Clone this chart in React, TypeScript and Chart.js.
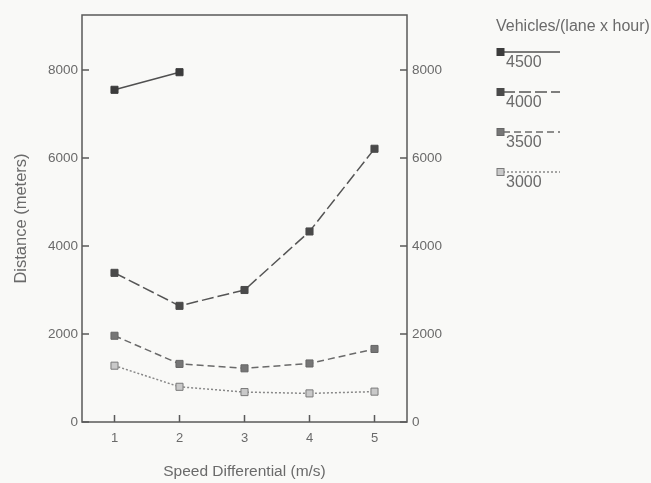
import React, { useEffect, useRef } from "react";
import { Chart, registerables } from "chart.js";

Chart.register(...registerables);

const categories = [1, 2, 3, 4, 5];
const series4500 = [7550, 7950, null, null, null];
const series4000 = [3390, 2640, 3000, 4330, 6210];
const series3500 = [1960, 1320, 1220, 1330, 1660];
const series3000 = [1280, 800, 680, 650, 690];
const seriesLabels = ["4500", "4000", "3500", "3000"];
const yTicks = [0, 2000, 4000, 6000, 8000];
const xTitle = "Speed Differential (m/s)";
const yTitle = "Distance (meters)";
const legendTitle = "Vehicles/(lane x hour)";

const FONT = "'Liberation Sans', Arial, Helvetica, sans-serif";
const TEXT = "#6a6a6a";
const AXIS = "#5a5a5a";
const BG = "#f9f9f7";

const toPoints = (vals: (number | null)[]) =>
  categories
    .map((c, i) => ({ x: c, y: vals[i] }))
    .filter((p) => p.y !== null);

const styles = [
  { line: "#505050", fill: "#3c3c3c", border: "#3c3c3c", dash: [] as number[] },
  { line: "#555555", fill: "#4a4a4a", border: "#4a4a4a", dash: [12, 4] },
  { line: "#6a6a6a", fill: "#767676", border: "#666666", dash: [7, 4] },
  { line: "#888888", fill: "#c9c9c9", border: "#7a7a7a", dash: [2, 2] },
];

const framePlugin = {
  id: "framePlugin",
  beforeDraw(chart: any) {
    const { ctx, width, height } = chart;
    ctx.save();
    ctx.fillStyle = BG;
    ctx.fillRect(0, 0, width, height);
    ctx.restore();
  },
  afterDraw(chart: any) {
    const { ctx, chartArea: a, scales } = chart;
    const TL = 7;
    ctx.save();
    ctx.strokeStyle = AXIS;
    ctx.lineWidth = 1.5;
    ctx.strokeRect(a.left, a.top, a.right - a.left, a.bottom - a.top);
    ctx.beginPath();
    scales.x.ticks.forEach((t: any) => {
      const px = scales.x.getPixelForValue(t.value);
      ctx.moveTo(px, a.bottom);
      ctx.lineTo(px, a.bottom - TL);
    });
    scales.y.ticks.forEach((t: any) => {
      const py = scales.y.getPixelForValue(t.value);
      ctx.moveTo(a.left, py);
      ctx.lineTo(a.left + TL, py);
    });
    scales.y2.ticks.forEach((t: any) => {
      const py = scales.y2.getPixelForValue(t.value);
      ctx.moveTo(a.right, py);
      ctx.lineTo(a.right - TL, py);
    });
    ctx.stroke();

    // legend
    ctx.fillStyle = TEXT;
    ctx.font = `16px ${FONT}`;
    ctx.textAlign = "left";
    ctx.textBaseline = "middle";
    ctx.fillText(legendTitle, 496, 27);
    chart.data.datasets.forEach((ds: any, i: number) => {
      const y = 52 + i * 40;
      ctx.save();
      ctx.strokeStyle = ds.borderColor;
      ctx.lineWidth = 1.5;
      ctx.setLineDash(ds.borderDash || []);
      ctx.beginPath();
      ctx.moveTo(503, y);
      ctx.lineTo(560, y);
      ctx.stroke();
      ctx.setLineDash([]);
      ctx.fillStyle = ds.pointBackgroundColor;
      ctx.strokeStyle = ds.pointBorderColor;
      ctx.lineWidth = 1;
      ctx.fillRect(497, y - 3.5, 7, 7);
      ctx.strokeRect(497, y - 3.5, 7, 7);
      ctx.restore();
      ctx.fillStyle = TEXT;
      ctx.font = `16px ${FONT}`;
      ctx.fillText(ds.label, 506, y + 11);
    });
    ctx.restore();
  },
};

export default function App() {
  const ref = useRef<HTMLCanvasElement | null>(null);
  useEffect(() => {
    if (!ref.current) return;
    const all = [series4500, series4000, series3500, series3000];
    const plain = (v: any) => String(v);
    const chart = new Chart(ref.current, {
      type: "line",
      data: {
        datasets: all.map((vals, i) => ({
          label: seriesLabels[i],
          data: toPoints(vals),
          borderColor: styles[i].line,
          borderWidth: 1.5,
          borderDash: styles[i].dash,
          pointStyle: "rect",
          pointRadius: 5,
          pointBackgroundColor: styles[i].fill,
          pointBorderColor: styles[i].border,
          pointBorderWidth: 1,
          fill: false,
          tension: 0,
        })) as any,
      },
      options: {
        animation: false,
        responsive: true,
        maintainAspectRatio: false,
        layout: { padding: { top: 15, right: 204, left: 0, bottom: 0 } },
        plugins: { legend: { display: false }, tooltip: { enabled: false } },
        scales: {
          x: {
            type: "linear",
            min: 0.5,
            max: 5.5,
            grid: { display: false, drawTicks: false },
            border: { display: false },
            afterBuildTicks: (s: any) => {
              s.ticks = categories.map((v) => ({ value: v }));
            },
            afterFit: (s: any) => {
              s.height = 61;
            },
            ticks: { color: TEXT, font: { family: FONT, size: 13 }, padding: 9, callback: plain },
            title: {
              display: true,
              text: xTitle,
              color: TEXT,
              font: { family: FONT, size: 15.5 },
              padding: { top: 0, bottom: 2 },
            },
          },
          y: {
            type: "linear",
            position: "left",
            min: 0,
            max: 9250,
            grid: { display: false, drawTicks: false },
            border: { display: false },
            afterBuildTicks: (s: any) => {
              s.ticks = yTicks.map((v) => ({ value: v }));
            },
            afterFit: (s: any) => {
              s.width = 82;
            },
            ticks: { color: TEXT, font: { family: FONT, size: 13.5 }, padding: 4, callback: plain },
            title: {
              display: true,
              text: yTitle,
              color: TEXT,
              font: { family: FONT, size: 16.5 },
              padding: { top: 12, bottom: 0 },
            },
          },
          y2: {
            type: "linear",
            position: "right",
            min: 0,
            max: 9250,
            grid: { display: false, drawTicks: false },
            border: { display: false },
            afterBuildTicks: (s: any) => {
              s.ticks = yTicks.map((v) => ({ value: v }));
            },
            afterFit: (s: any) => {
              s.width = 40;
            },
            ticks: { color: TEXT, font: { family: FONT, size: 13.5 }, padding: 5, callback: plain },
          },
        },
      },
      plugins: [framePlugin],
    });
    return () => chart.destroy();
  }, []);
  return (
    <div style={{ position: "fixed", left: 0, top: 0, width: 651, height: 483 }}>
      <canvas ref={ref} />
    </div>
  );
}
